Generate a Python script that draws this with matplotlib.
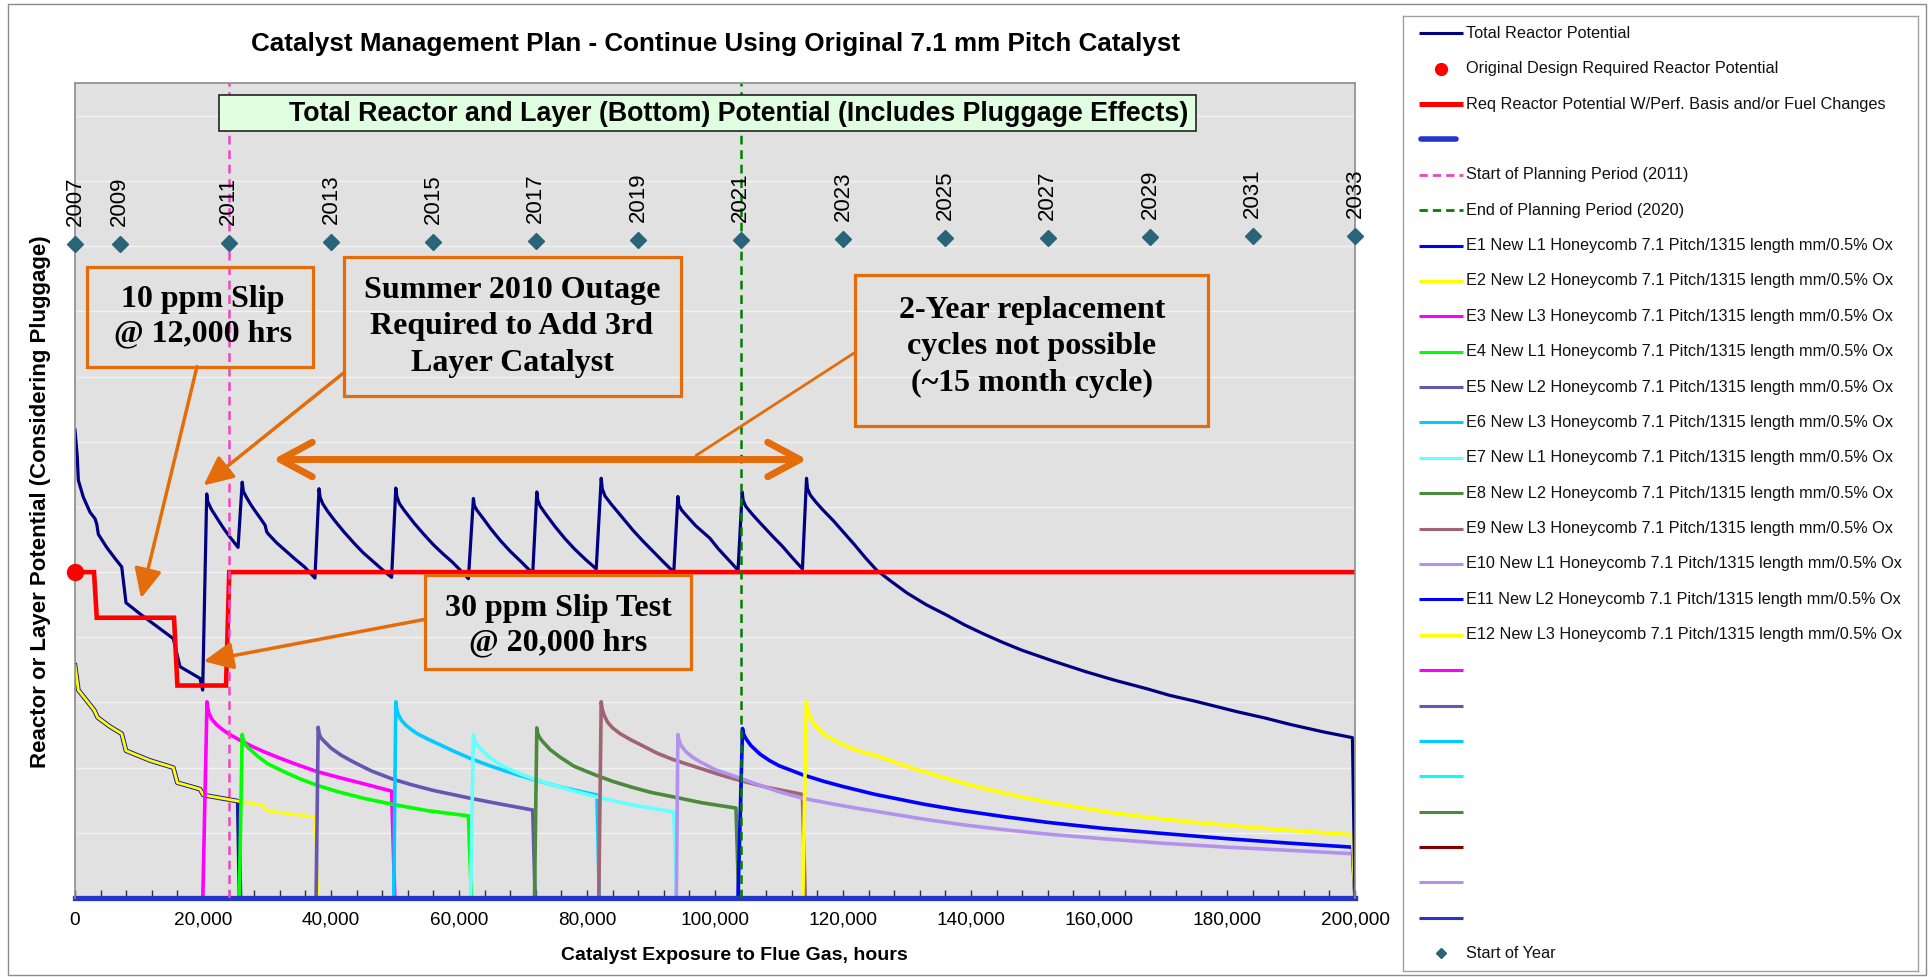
import matplotlib
matplotlib.use('Agg')
import matplotlib.pyplot as plt
from matplotlib.patches import Rectangle
from matplotlib.ticker import MultipleLocator

plt.rcParams['font.family'] = ['Liberation Sans', 'DejaVu Sans']

# ---------------- data (hours of flue-gas exposure, potential) ----------------
TOTAL_HRS = [0, 360, 520, 1300, 2340, 3125, 3390, 3650, 4950, 6250, 7300, 7970, 10150, 12760,
             15360, 16400, 19530, 19950,
             20580, 20750, 21270, 22500, 23300, 24190, 25480,
             26125, 26300, 26780, 27500, 28200, 29000, 29700, 29950, 30160, 31500, 33000, 34500, 35860, 37490,
             38130, 38300, 38700, 39500, 40500, 42000, 43640, 45000, 46500, 48000, 49470,
             50125, 50300, 50700, 51500, 53000, 54500, 56000, 57500, 59000, 60300, 61470,
             62250, 62400, 62800, 63800, 65000, 66500, 68000, 69800, 71520,
             72160, 72320, 72700, 73700, 75000, 76500, 78000, 79700, 81440,
             82220, 82380, 82800, 83800, 85000, 87200, 88700, 90000, 91800, 93560,
             94200, 94350, 94800, 95700, 97000, 99200, 100500, 102000, 103600,
             104250, 104400, 104800, 105800, 107000, 109100, 110500, 112000, 113660,
             114300, 114450, 114900, 115800, 116800, 118480, 120000, 121800, 123500, 125260, 127500,
             130000, 133000, 136200, 139000, 142000, 145000, 148000, 153000, 158000, 162500, 167500,
             171000, 175000, 181500, 186000, 190000, 195000, 199600, 200000]
TOTAL_VAL = [7.18, 6.76, 6.41, 6.15, 5.92, 5.82, 5.74, 5.58, 5.38, 5.21, 5.08, 4.53, 4.36, 4.17,
             3.98, 3.55, 3.37, 3.19,
             6.20, 6.08, 5.97, 5.78, 5.66, 5.54, 5.38,
             6.38, 6.24, 6.15, 6.03, 5.93, 5.82, 5.72, 5.62, 5.59, 5.45, 5.32, 5.19, 5.08, 4.91,
             6.28, 6.15, 6.05, 5.93, 5.80, 5.62, 5.44, 5.30, 5.17, 5.04, 4.92,
             6.29, 6.16, 6.05, 5.94, 5.75, 5.58, 5.42, 5.28, 5.15, 5.02, 4.90,
             6.13, 6.02, 5.95, 5.82, 5.66, 5.48, 5.32, 5.15, 4.98,
             6.23, 6.10, 6.01, 5.87, 5.70, 5.52, 5.36, 5.20, 5.05,
             6.44, 6.28, 6.17, 6.04, 5.90, 5.64, 5.48, 5.35, 5.17, 5.00,
             6.16, 6.03, 5.95, 5.85, 5.71, 5.52, 5.36, 5.20, 5.03,
             6.23, 6.10, 6.01, 5.89, 5.76, 5.54, 5.40, 5.23, 5.05,
             6.44, 6.28, 6.18, 6.07, 5.96, 5.79, 5.62, 5.42, 5.22, 5.03, 4.86,
             4.68, 4.50, 4.34, 4.19, 4.05, 3.92, 3.80, 3.63, 3.47, 3.34, 3.21,
             3.11, 3.02, 2.86, 2.76, 2.66, 2.55, 2.46, 0.0]

DESIGN_HRS = [0]
DESIGN_VAL = [5.0]

REQ_HRS = [0, 2970, 3400, 15470, 16000, 23600, 24100, 200000]
REQ_VAL = [5.0, 5.0, 4.30, 4.30, 3.26, 3.26, 5.0, 5.0]

BASE_HRS = [0, 200000]
BASE_VAL = [0.0, 0.0]

PLAN_START_HRS = 24000
PLAN_END_HRS = 104000

E1_HRS = [0, 520, 1820, 3020, 3540, 5470, 7300, 7970, 11720, 15360, 15990, 19530, 20050, 25260, 25500, 25780]
E1_VAL = [3.57, 3.19, 3.03, 2.88, 2.77, 2.63, 2.52, 2.26, 2.11, 2.00, 1.77, 1.67, 1.58, 1.49, 1.48, 0.0]

E2_HRS = [0, 520, 1820, 3020, 3540, 5470, 7300, 7970, 11720, 15360, 15990, 19530, 20050, 25260, 29420, 29950, 37500, 37970]
E2_VAL = [3.57, 3.19, 3.03, 2.88, 2.77, 2.63, 2.52, 2.26, 2.11, 2.00, 1.77, 1.67, 1.58, 1.49, 1.42, 1.34, 1.24, 0.0]

E3_HRS = [19970, 20625, 20775, 20940, 21400, 22100, 23100, 23980, 25600, 27600, 29375, 31900, 34600,
          37800, 41600, 45600, 49470, 49970]
E3_VAL = [0.0, 3.01, 2.90, 2.83, 2.74, 2.66, 2.58, 2.52, 2.43, 2.33, 2.25, 2.15, 2.05,
          1.94, 1.84, 1.74, 1.64, 0.0]

E4_HRS = [25670, 26125, 26275, 26525, 27125, 28600, 30100, 32600, 35100, 37800, 41100, 45100,
          49470, 55100, 61470, 61940]
E4_VAL = [0.0, 2.51, 2.43, 2.37, 2.30, 2.17, 2.06, 1.94, 1.83, 1.73, 1.63, 1.53,
          1.44, 1.34, 1.26, 0.0]

E5_HRS = [37670, 38000, 38150, 38400, 38780, 40000, 41600, 43640, 46300, 49470, 52500, 56000,
          61800, 66000, 71520, 71900]
E5_VAL = [0.0, 2.62, 2.52, 2.46, 2.42, 2.30, 2.19, 2.08, 1.95, 1.83, 1.74, 1.65,
          1.53, 1.45, 1.35, 0.0]

E6_HRS = [49800, 50125, 50275, 50450, 50900, 51600, 52600, 53500, 55300, 57500, 59000, 61800,
          64500, 67500, 71520, 76000, 81560, 81920]
E6_VAL = [0.0, 3.01, 2.90, 2.83, 2.74, 2.66, 2.58, 2.52, 2.43, 2.33, 2.26, 2.14,
          2.04, 1.94, 1.82, 1.70, 1.58, 0.0]

E7_HRS = [61800, 62250, 62400, 62650, 63250, 64750, 66500, 68700, 71520, 74500, 78000, 81500,
          87000, 93560, 94000]
E7_VAL = [0.0, 2.51, 2.43, 2.37, 2.30, 2.16, 2.04, 1.94, 1.83, 1.74, 1.64, 1.55,
          1.43, 1.32, 0.0]

E8_HRS = [71800, 72160, 72310, 72560, 72900, 74200, 75800, 78000, 81250, 84000, 87000, 90000,
          93560, 98000, 103280, 103700]
E8_VAL = [0.0, 2.61, 2.52, 2.47, 2.42, 2.28, 2.16, 2.02, 1.89, 1.79, 1.70, 1.62,
          1.55, 1.46, 1.38, 0.0]

E9_HRS = [81840, 82220, 82370, 82700, 83200, 84000, 85200, 86800, 88800, 91000, 93560, 97660,
          100500, 103280, 108000, 113660, 114100]
E9_VAL = [0.0, 3.01, 2.90, 2.80, 2.70, 2.61, 2.52, 2.43, 2.33, 2.22, 2.12, 1.99,
          1.90, 1.82, 1.70, 1.59, 0.0]

E10_HRS = [93960, 94200, 94350, 94700, 95500, 96500, 97660, 100000, 103280, 107000, 110000, 113720,
           118000, 122000, 127000, 132600, 139000, 145000, 152000, 160500, 170000, 180000, 190000,
           199600, 200000]
E10_VAL = [0.0, 2.51, 2.43, 2.34, 2.24, 2.16, 2.09, 1.97, 1.86, 1.73, 1.63, 1.53,
           1.45, 1.38, 1.30, 1.21, 1.12, 1.05, 0.98, 0.91, 0.84, 0.78, 0.73,
           0.68, 0.0]

E11_HRS = [103600, 104300, 104450, 104800, 105600, 107000, 108500, 110000, 113720, 117000, 120000,
           125000, 132600, 138000, 145000, 152000, 160500, 170000, 180000, 190000, 199600, 200000]
E11_VAL = [0.0, 2.60, 2.52, 2.45, 2.34, 2.21, 2.11, 2.03, 1.89, 1.79, 1.71,
           1.59, 1.44, 1.35, 1.25, 1.16, 1.07, 0.99, 0.91, 0.84, 0.78, 0.0]

E12_HRS = [113720, 114270, 114420, 114770, 115400, 116300, 117500, 119000, 121000, 123000, 125600,
           128500, 131500, 135000, 140000, 146560, 152000, 157000, 162000, 167500, 175000, 183000,
           191000, 199600, 200000]
E12_VAL = [0.0, 3.01, 2.90, 2.80, 2.68, 2.58, 2.48, 2.40, 2.31, 2.24, 2.17,
           2.07, 1.97, 1.87, 1.73, 1.58, 1.47, 1.39, 1.31, 1.24, 1.16, 1.09,
           1.03, 0.97, 0.0]

YEAR_LABELS = ['2007', '2009', '2011', '2013', '2015', '2017', '2019', '2021', '2023', '2025',
               '2027', '2029', '2031', '2033']
YEAR_HRS = [0, 7000, 24000, 40000, 56000, 72000, 88000, 104000, 120000, 136000,
            152000, 168000, 184000, 200000]
YEAR_VAL = [10.03, 10.04, 10.05, 10.06, 10.07, 10.08, 10.09, 10.10, 10.11, 10.12,
            10.13, 10.14, 10.15, 10.16]

X_TICKS = [0, 20000, 40000, 60000, 80000, 100000, 120000, 140000, 160000, 180000, 200000]
X_TICK_LABELS = ['0', '20,000', '40,000', '60,000', '80,000', '100,000', '120,000', '140,000',
                 '160,000', '180,000', '200,000']

LEGEND_LABELS = ['Total Reactor Potential',
                 'Original Design Required Reactor Potential',
                 'Req Reactor Potential W/Perf. Basis and/or Fuel Changes',
                 '',
                 'Start of Planning Period (2011)',
                 'End of Planning Period (2020)',
                 'E1 New L1 Honeycomb 7.1 Pitch/1315 length mm/0.5% Ox',
                 'E2 New L2 Honeycomb 7.1 Pitch/1315 length mm/0.5% Ox',
                 'E3 New L3 Honeycomb 7.1 Pitch/1315 length mm/0.5% Ox',
                 'E4 New L1 Honeycomb 7.1 Pitch/1315 length mm/0.5% Ox',
                 'E5 New L2 Honeycomb 7.1 Pitch/1315 length mm/0.5% Ox',
                 'E6 New L3 Honeycomb 7.1 Pitch/1315 length mm/0.5% Ox',
                 'E7 New L1 Honeycomb 7.1 Pitch/1315 length mm/0.5% Ox',
                 'E8 New L2 Honeycomb 7.1 Pitch/1315 length mm/0.5% Ox',
                 'E9 New L3 Honeycomb 7.1 Pitch/1315 length mm/0.5% Ox',
                 'E10 New L1 Honeycomb 7.1 Pitch/1315 length mm/0.5% Ox',
                 'E11 New L2 Honeycomb 7.1 Pitch/1315 length mm/0.5% Ox',
                 'E12 New L3 Honeycomb 7.1 Pitch/1315 length mm/0.5% Ox',
                 '', '', '', '', '', '', '', '',
                 'Start of Year']

# ---------------- styles ----------------
NAVY = '#000080'
RED = '#ff0000'
BASE_BLUE = '#2535c8'
PINK = '#f044c4'
DGREEN = '#008000'
ORANGE = '#e46c0a'
TEAL = '#2a6478'
C_E = ['#0000ff', '#ffff00', '#ff00ff', '#00ff00', '#6656b0', '#00ccff',
       '#66ffff', '#4b8a3c', '#a06474', '#b392ee', '#0000ff', '#ffff00']

W, H = 1931, 977
fig = plt.figure(figsize=(W / 100, H / 100), dpi=100)
fig.patch.set_facecolor('white')


def px_rect(l, t, r, b):
    return [l / W, 1 - b / H, (r - l) / W, (b - t) / H]


# outer chart border
fig.add_artist(Rectangle((8 / W, 2 / H), (1926 - 8) / W, (973 - 2) / H, transform=fig.transFigure,
                         fill=False, ec='#8c8c8c', lw=1.0))

ax = fig.add_axes(px_rect(75, 83.3, 1355, 898))
ax.set_xlim(0, 200000)
ax.set_ylim(0, 12.5)
ax.set_facecolor('#e1e1e1')
ax.set_yticks(list(range(1, 13)))
ax.yaxis.grid(True, color='#f2f2f2', lw=1.0)
ax.tick_params(axis='y', length=0, labelleft=False)
ax.set_xticks(X_TICKS, X_TICK_LABELS)
ax.xaxis.set_minor_locator(MultipleLocator(4000))
ax.tick_params(axis='x', which='both', direction='in', length=6, width=1.0, color='#333333',
               labelsize=13.7, pad=10)
for s in ['left', 'top', 'right']:
    ax.spines[s].set_color('#8c8c8c')
    ax.spines[s].set_linewidth(1.2)
ax.spines['bottom'].set_visible(False)

# layer curves
layers = [(E3_HRS, E3_VAL, C_E[2]), (E4_HRS, E4_VAL, C_E[3]), (E5_HRS, E5_VAL, C_E[4]),
          (E6_HRS, E6_VAL, C_E[5]), (E7_HRS, E7_VAL, C_E[6]), (E8_HRS, E8_VAL, C_E[7]),
          (E9_HRS, E9_VAL, C_E[8]), (E10_HRS, E10_VAL, C_E[9]), (E11_HRS, E11_VAL, C_E[10]),
          (E12_HRS, E12_VAL, C_E[11])]
ax.plot(E1_HRS, E1_VAL, color='#1a1aa0', lw=3.4, solid_joinstyle='round', zorder=2.0)
ax.plot(E2_HRS, E2_VAL, color=C_E[1], lw=2.0, solid_joinstyle='round', zorder=2.05)
for i, (hx_, hy_, c) in enumerate(layers):
    ax.plot(hx_, hy_, color=c, lw=2.6, solid_joinstyle='round', zorder=2.1 + 0.01 * i)

ax.plot(TOTAL_HRS, TOTAL_VAL, color=NAVY, lw=2.3, solid_joinstyle='round', zorder=2.3)
ax.plot(REQ_HRS, REQ_VAL, color=RED, lw=3.3, solid_joinstyle='miter', zorder=2.35)
ax.plot(BASE_HRS, BASE_VAL, color=BASE_BLUE, lw=3.8, zorder=2.4, clip_on=False)

ax.axvline(PLAN_START_HRS, color=PINK, lw=1.8, ls=(0, (3.5, 2.3)), zorder=2.45)
ax.axvline(PLAN_END_HRS, color=DGREEN, lw=1.8, ls=(0, (3.5, 2.3)), zorder=2.45)

ax.plot(DESIGN_HRS, DESIGN_VAL, 'o', color=RED, ms=11.5, clip_on=False, zorder=6)
ax.plot(YEAR_HRS, YEAR_VAL, 'D', color=TEAL, ms=8.3, clip_on=False, zorder=6)
for lab, xh, yv in zip(YEAR_LABELS, YEAR_HRS, YEAR_VAL):
    ax.annotate(lab, (xh, yv), xytext=(0, 13), textcoords='offset points', rotation=90,
                ha='center', va='bottom', fontsize=16, color='black', zorder=5)

# axis titles
ax.set_xlabel('Catalyst Exposure to Flue Gas, hours', fontsize=14, fontweight='bold', va='center')
ax.xaxis.set_label_coords((734 - 75) / 1280, -(955 - 898) / 814.7)
ax.set_ylabel('Reactor or Layer Potential (Considering Pluggage)', fontsize=16,
              fontweight='bold', va='center')
ax.yaxis.set_label_coords((41 - 75) / 1280, (898 - 502) / 814.7)

fig.text(716 / W, 1 - 44 / H, 'Catalyst Management Plan - Continue Using Original 7.1 mm Pitch Catalyst',
         ha='center', va='center', fontsize=18.7, fontweight='bold')


def hx(px):
    return (px - 75) * 156.25


def vy(py):
    return (898 - py) / 65.25


# header box
ax.add_patch(Rectangle((hx(219), vy(130)), hx(1196) - hx(219), vy(94) - vy(130),
                       fc='#e0ffe0', ec='#222222', lw=1.2, zorder=7))
ax.text(hx(289), vy(113), 'Total Reactor and Layer (Bottom) Potential (Includes Pluggage Effects)',
        ha='left', va='center', fontsize=19.3, fontweight='bold', zorder=8)

# callout boxes
SERIF = ['Liberation Serif', 'DejaVu Serif']
boxes = [((87, 266, 313, 366), (203, 316.5), '10 ppm Slip\n@ 12,000 hrs', 1.25),
         ((343.6, 256, 681, 395), (512, 326), 'Summer 2010 Outage\nRequired to Add 3rd\nLayer Catalyst', 1.34),
         ((854.7, 274, 1208, 425), (1032, 346), '2-Year replacement\ncycles not possible\n(~15 month cycle)', 1.34),
         ((425, 575, 691, 669), (558, 625.5), '30 ppm Slip Test\n@ 20,000 hrs', 1.25)]
for (l, t, r, b), (cx, cy), txt, lsp in boxes:
    ax.add_patch(Rectangle((hx(l), vy(b)), hx(r) - hx(l), vy(t) - vy(b), fill=False,
                           ec=ORANGE, lw=2.3, zorder=7))
    ax.text(hx(cx), vy(cy), txt, ha='center', va='center', multialignment='center',
            family=SERIF, fontweight='bold', fontsize=23, linespacing=lsp, zorder=8)

arrow_kw = dict(arrowstyle='-|>,head_length=0.9,head_width=0.42', mutation_scale=20, lw=2.5,
                color=ORANGE, shrinkA=0, shrinkB=0)
ax.annotate('', xy=(hx(141), vy(598)), xytext=(hx(197), vy(366)), arrowprops=arrow_kw, zorder=7)
ax.annotate('', xy=(hx(203.5), vy(485)), xytext=(hx(344), vy(372)), arrowprops=arrow_kw, zorder=7)
ax.annotate('', xy=(hx(203.5), vy(661)), xytext=(hx(425), vy(619)), arrowprops=arrow_kw, zorder=7)
ax.annotate('', xy=(hx(807), vy(459)), xytext=(hx(273), vy(459)),
            arrowprops=dict(arrowstyle='<->,head_length=1.15,head_width=0.62', mutation_scale=20,
                            lw=5, color=ORANGE, shrinkA=0, shrinkB=0, capstyle='round',
                            joinstyle='round'), zorder=7)
ax.annotate('', xy=(hx(696), vy(455)), xytext=(hx(854.7), vy(352)),
            arrowprops=dict(arrowstyle='-', lw=2.0, color=ORANGE, shrinkA=0, shrinkB=0), zorder=7)

# legend panel
lg = fig.add_axes(px_rect(1403, 16, 1918, 971))
lg.set_xlim(1403, 1918)
lg.set_ylim(971, 16)
lg.set_xticks([])
lg.set_yticks([])
for s in lg.spines.values():
    s.set_color('#a0a0a0')
    s.set_linewidth(1.0)

handles = [('line', NAVY, '-', 2.2), ('dot', RED, None, None), ('line', RED, '-', 3.6),
           ('short', BASE_BLUE, '-', 4.0), ('line', PINK, (0, (3.0, 1.8)), 2.0),
           ('line', DGREEN, (0, (3.0, 1.8)), 2.0)]
handles += [('line', c, '-', 2.2) for c in C_E]
handles += [('line', c, '-', 2.2) for c in ['#ff00ff', '#6656b0', '#00ccff', '#00ffff', '#4b8a3c',
                                             '#800000', '#b392ee', BASE_BLUE]]
handles += [('diamond', TEAL, None, None)]
for i, (lab, (kind, c, ls, lw)) in enumerate(zip(LEGEND_LABELS, handles)):
    y = 33.3 + 35.38 * i
    if kind == 'line':
        lg.plot([1419, 1463], [y, y], color=c, ls=ls, lw=lw, solid_capstyle='butt')
    elif kind == 'short':
        lg.plot([1421, 1456], [y, y], color=c, lw=lw, solid_capstyle='round')
    elif kind == 'dot':
        lg.plot([1441.5], [y], 'o', color=c, ms=8.5)
    else:
        lg.plot([1441.5], [y], 'D', color=c, ms=5.5)
    lg.text(1466, y, lab, ha='left', va='center', fontsize=11.7, color='#111111')

fig.savefig('out.png', dpi=100)
